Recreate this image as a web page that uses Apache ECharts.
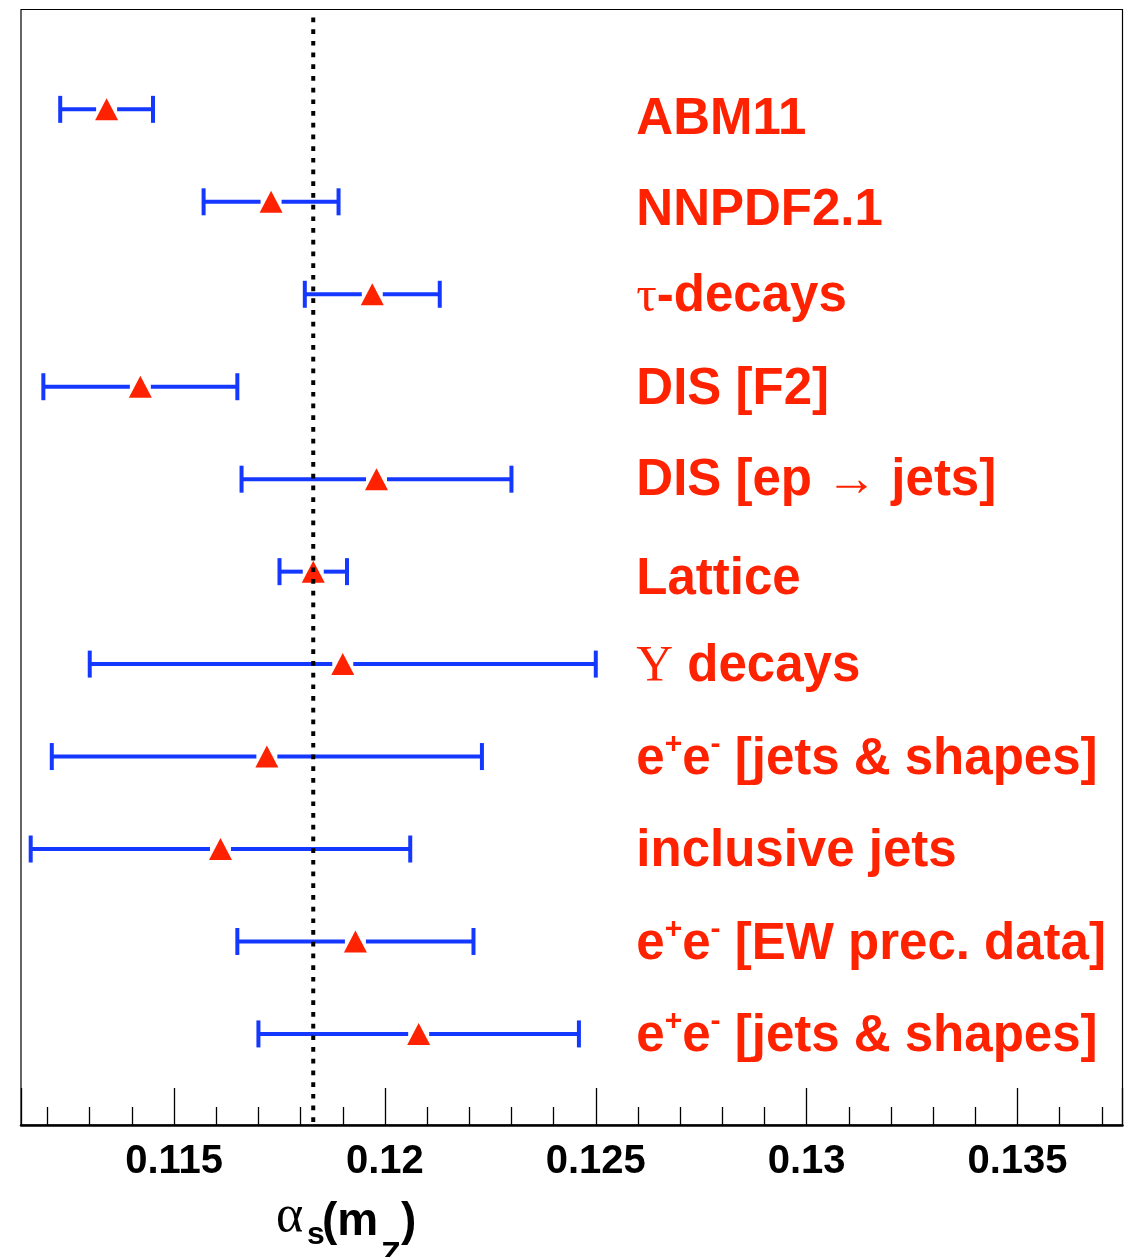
<!DOCTYPE html>
<html>
<head>
<meta charset="utf-8">
<script src="https://cdn.jsdelivr.net/npm/echarts@6/dist/echarts.min.js"></script>
<style>
html,body{margin:0;padding:0;background:#fff;}
#chart{width:1132px;height:1257px;}
</style>
</head>
<body>
<div id="chart"></div>
<script>
// ---- data ----
const categories = [
  'ABM11',
  'NNPDF2.1',
  '{g|\u03c4}-decays',
  'DIS [F2]',
  'DIS [ep {g|\u2192} jets]',
  'Lattice',
  '{g|\u03a5} decays',
  'e{sup|+}e{sup|-} [jets & shapes]',
  'inclusive jets',
  'e{sup|+}e{sup|-} [EW prec. data]',
  'e{sup|+}e{sup|-} [jets & shapes]'
];
const rows    = [1, 2, 3, 4, 5, 6, 7, 8, 9, 10, 11];
const central = [0.1134, 0.1173, 0.1197, 0.1142, 0.1198, 0.1183, 0.1190, 0.1172, 0.1161, 0.1193, 0.1208];
const lower   = [0.1123, 0.1157, 0.1181, 0.1119, 0.1166, 0.1175, 0.1130, 0.1121, 0.1116, 0.1165, 0.1170];
const upper   = [0.1145, 0.1189, 0.1213, 0.1165, 0.1230, 0.1191, 0.1250, 0.1223, 0.1206, 0.1221, 0.1246];
const worldAverage = 0.1183;
const labelAnchorX = 0.12596;
const xMin = 0.11137, xMax = 0.13749;

// styling only: small vertical nudges of the text labels (pixels)
const labelNudgeY = [11, 9, 3, 3, 2, 8, 3, 3, 3, 3, 3];

const RED = '#ff2200';
const BLUE = '#1438ff';
const SANS = 'Liberation Sans, Arial, Helvetica, sans-serif';
const SERIF = 'Liberation Serif, Times New Roman, serif';

const chart = echarts.init(document.getElementById('chart'), null, {renderer: 'canvas'});

// axis title pieces: alpha_s(m_Z)
function titlePiece(text, x, baseline, size, family, weight) {
  const k = family === SERIF ? 0.3375 : 0.3465;
  return {
    type: 'text', silent: true, z: 20,
    x: x, y: baseline - k * size,
    style: {text: text, fill: '#000', font: weight + ' ' + size + 'px ' + family,
            align: 'left', verticalAlign: 'middle'}
  };
}

const option = {
  backgroundColor: '#fff',
  animation: false,
  grid: {
    left: 21, right: 9.5, top: 9.5, bottom: 132,
    show: true, borderColor: '#000', borderWidth: 1.2, backgroundColor: 'transparent'
  },
  xAxis: {
    type: 'value',
    position: 'bottom',
    min: xMin, max: xMax,
    splitNumber: 5, minInterval: 0.005, maxInterval: 0.005,
    axisLine: {show: true, onZero: false, lineStyle: {color: '#000', width: 2.5}},
    axisTick: {show: true, inside: true, length: 37, lineStyle: {color: '#000', width: 1.3}},
    minorTick: {show: true, splitNumber: 5, length: 18, lineStyle: {color: '#000', width: 1.3}},
    splitLine: {show: false},
    minorSplitLine: {show: false},
    axisLabel: {
      show: true, margin: 17, color: '#000', fontSize: 40, fontWeight: 'bold',
      fontFamily: SANS,
      showMinLabel: false, showMaxLabel: false,
      formatter: function (v) {
        const k = Math.round(v / 0.005);
        if (Math.abs(v - k * 0.005) > 1e-7) return '';
        return String(+(k * 0.005).toFixed(3));
      }
    }
  },
  yAxis: {
    type: 'value', inverse: true, min: -0.08, max: 11.985,
    show: false, splitLine: {show: false},
    axisLine: {onZero: false}
  },
  graphic: [
    titlePiece('\u03b1', 276, 1235, 52, SERIF, 'normal'),
    titlePiece('s', 307, 1246, 32, SANS, 'bold'),
    titlePiece('(m', 322, 1238, 46, SANS, 'bold'),
    titlePiece('Z', 381, 1266, 32, SANS, 'bold'),
    titlePiece(')', 401, 1238, 46, SANS, 'bold')
  ],
  series: [
    {
      type: 'custom',
      name: 'errors',
      z: 2,
      data: rows.map((r, i) => [lower[i], upper[i], central[i], r]),
      encode: {x: [0, 1, 2], y: 3},
      renderItem: function (params, api) {
        const y = api.value(3);
        const pL = api.coord([api.value(0), y]);
        const pR = api.coord([api.value(1), y]);
        const pC = api.coord([api.value(2), y]);
        const gap = 10.5, cap = 13.5;
        const st = {stroke: BLUE, lineWidth: 4, fill: null};
        const ch = [];
        if (pC[0] - gap > pL[0]) ch.push({type: 'line', shape: {x1: pL[0], y1: pL[1], x2: pC[0] - gap, y2: pC[1]}, style: st});
        if (pR[0] > pC[0] + gap) ch.push({type: 'line', shape: {x1: pC[0] + gap, y1: pC[1], x2: pR[0], y2: pR[1]}, style: st});
        ch.push({type: 'line', shape: {x1: pL[0], y1: pL[1] - cap, x2: pL[0], y2: pL[1] + cap}, style: st});
        ch.push({type: 'line', shape: {x1: pR[0], y1: pR[1] - cap, x2: pR[0], y2: pR[1] + cap}, style: st});
        return {type: 'group', children: ch};
      }
    },
    {
      type: 'scatter',
      name: 'central',
      z: 3,
      symbol: 'triangle',
      symbolSize: [23, 22],
      itemStyle: {color: RED, opacity: 1},
      data: rows.map((r, i) => [central[i], r])
    },
    {
      type: 'custom',
      name: 'world average',
      z: 10,
      silent: true,
      data: [[worldAverage, rows[0]]],
      encode: {x: 0, y: 1},
      renderItem: function (params, api) {
        const cs = params.coordSys;
        const x = api.coord([api.value(0), api.value(1)])[0];
        return {
          type: 'line',
          shape: {x1: x, y1: cs.y + 8, x2: x, y2: cs.y + cs.height},
          style: {stroke: '#000', lineWidth: 4, lineDash: [4.7, 7], fill: null}
        };
      }
    },
    {
      type: 'scatter',
      name: 'labels',
      z: 5,
      silent: true,
      symbolSize: 0.1,
      itemStyle: {color: 'rgba(0,0,0,0)', opacity: 1},
      data: rows.map((r, i) => ({
        value: [labelAnchorX, r], name: categories[i],
        label: {offset: [0, labelNudgeY[i]]}
      })),
      label: {
        show: true, position: 'right', distance: 0, opacity: 1,
        formatter: function (p) { return p.name; },
        color: RED, fontSize: 51, fontWeight: 'bold', lineHeight: 60,
        fontFamily: SANS,
        rich: {
          g: {fontFamily: SERIF, fontWeight: 'normal', fontSize: 51, color: RED},
          sup: {fontFamily: SANS, fontWeight: 'bold', fontSize: 30, lineHeight: 30, verticalAlign: 'top', color: RED}
        }
      }
    }
  ]
};

chart.setOption(option);
</script>
</body>
</html>
